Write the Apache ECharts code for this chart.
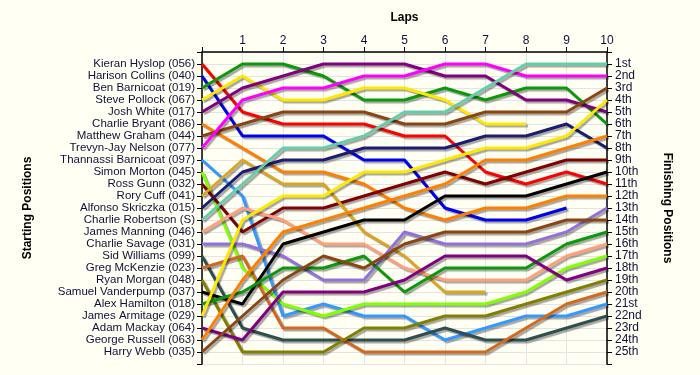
<!DOCTYPE html>
<html>
<head>
<meta charset="utf-8">
<script src="https://cdn.jsdelivr.net/npm/echarts@6/dist/echarts.min.js"></script>
<style>
html,body{margin:0;padding:0;background:#FFFFF4;}
#chart{width:700px;height:375px;}
</style>
</head>
<body>
<div id="chart"></div>
<script>
const laps = [0,1,2,3,4,5,6,7,8,9,10];
const startNames = [
  'Kieran Hyslop (056)','Harison Collins (040)','Ben Barnicoat (019)','Steve Pollock (067)',
  'Josh White (017)','Charlie Bryant (086)','Matthew Graham (044)','Trevyn-Jay Nelson (077)',
  'Thannassi Barnicoat (097)','Simon Morton (045)','Ross Gunn (032)','Rory Cuff (041)',
  'Alfonso Skriczka (015)','Charlie Robertson (S)','James Manning (046)','Charlie Savage (031)',
  'Sid Williams (099)','Greg McKenzie (023)','Ryan Morgan (048)','Samuel Vanderpump (037)',
  'Alex Hamilton (018)','James Armitage (029)','Adam Mackay (064)','George Russell (063)','Harry Webb (035)'
];
const finishLabels = ['1st','2nd','3rd','4th','5th','6th','7th','8th','9th','10th','11th','12th','13th',
  '14th','15th','16th','17th','18th','19th','20th','21st','22nd','23rd','24th','25th'];
const lineColors = ['#FF0000','#0000EE','#0A990A','#FFE800','#800080','#FF8000','#8B4513','#FF00FF',
  '#3399FF','#80FF00','#800000','#DAA520','#1C1C70','#66CDAA','#FFA07A','#9370DB',
  '#2F4F4F','#D2691E','#808000','#000000','#0A990A','#FFE800','#800080','#FF8000','#8B4513'];

// position per lap (lap 0 = start); shorter arrays = retired
const hyslop     = [1,5,6,6,6,7,7,10,11,10,11];
const collins    = [2,7,7,7,9,9,13,14,14,13];
const bBarnicoat = [3,1,1,2,4,4,3,4,3,3,6];
const pollock    = [4,2,4,4,3,3,4,6,6];
const white      = [5,3,2,1,1,1,2,2,4,4,5];
const bryant     = [6,8,10,10,11,13,14,13,13,12,12];
const graham     = [7,6,5,5,5,6,6,5,5,5,3];
const nelson     = [8,4,3,3,2,2,1,1,2,2,2];
const tBarnicoat = [9,12,22,21,22,22,24,23,22,22,21];
const morton     = [10,18,21,22,21,21,21,21,20,18,17];
const gunn       = [11,15,13,13,12,11,10,11,10,9,9];
const cuff       = [12,9,11,11,15,17,20,20];
const skriczka   = [13,10,9,9,8,8,8,7,7,6,8];
const robertson  = [14,11,8,8,7,5,5,3,1,1,1];
const manning    = [15,13,14,16,16,18,19,19,19,17,16];
const savage     = [16,16,17,19,19,15,16,16,16,15,13];
const williams   = [17,23,24,24,24,24,23,24,24,23,22];
const mckenzie   = [18,17,23,23,25,25,25,25,23,21,20];
const morgan     = [19,25,25,25,23,23,22,22,21,20,19];
const vanderpump = [20,21,16,15,14,14,12,12,12,11,10];
const hamilton   = [21,20,18,18,17,20,18,18,18,16,15];
const armitage   = [22,14,12,12,10,10,9,8,8,7,4];
const mackay     = [23,24,20,20,20,19,17,17,17,19,18];
const russell    = [24,19,15,14,13,12,11,9,9,8,7];
const webb       = [25,22,19,17,18,16,15,15,15,14,14];

const driverPositions = [hyslop,collins,bBarnicoat,pollock,white,bryant,graham,nelson,tBarnicoat,
  morton,gunn,cuff,skriczka,robertson,manning,savage,williams,mckenzie,morgan,vanderpump,
  hamilton,armitage,mackay,russell,webb];

const FONT = 'Liberation Sans, Arial, sans-serif';
const series = driverPositions.map((arr, i) => ({
  type: 'line',
  name: startNames[i],
  data: arr.map((p, k) => [laps[k], p]),
  symbol: 'none',
  silent: true,
  animation: false,
  lineStyle: {
    color: lineColors[i], width: 3,
    shadowColor: 'rgba(0,0,0,0.35)', shadowOffsetX: 2, shadowOffsetY: 2, shadowBlur: 1
  },
  z: 2 + i
}));

const chart = echarts.init(document.getElementById('chart'), null, {renderer: 'canvas'});
chart.setOption({
  backgroundColor: '#FFFFF4',
  animation: false,
  grid: {left: 202, right: 93, top: 52, bottom: 11, containLabel: false},
  xAxis: {
    type: 'value', position: 'top', min: 0, max: 10, interval: 1,
    name: 'Laps', nameLocation: 'middle', nameGap: 28,
    nameTextStyle: {fontFamily: FONT, fontSize: 12, fontWeight: 'bold', color: '#000'},
    axisLine: {show: true, lineStyle: {color: '#000', width: 1.5}},
    axisTick: {show: true, length: 5, lineStyle: {color: '#000'}},
    axisLabel: {fontFamily: FONT, fontSize: 12, color: '#10103a', margin: 5,
      formatter: v => (v === 0 ? '' : String(v))},
    splitLine: {show: true, lineStyle: {color: '#E4E4E4', width: 1}}
  },
  yAxis: [
    {
      type: 'value', inverse: true, min: 0, max: 26, interval: 1, position: 'left',
      name: 'Starting Positions', nameLocation: 'middle', nameGap: 168, nameRotate: 90,
      nameTextStyle: {fontFamily: FONT, fontSize: 12, fontWeight: 'bold', color: '#000'},
      axisLine: {show: true, lineStyle: {color: '#000', width: 1.5}},
      axisTick: {show: true, length: 5, lineStyle: {color: '#000'}},
      axisLabel: {fontFamily: FONT, fontSize: 11.5, color: '#10103a', margin: 7,
        formatter: v => (v >= 1 && v <= 25 ? startNames[v - 1] : '')},
      splitLine: {show: true, lineStyle: {color: '#E4E4E4', width: 1}}
    },
    {
      type: 'value', inverse: true, min: 0, max: 26, interval: 1, position: 'right',
      name: 'Finishing Positions', nameLocation: 'middle', nameGap: 54, nameRotate: -90,
      nameTextStyle: {fontFamily: FONT, fontSize: 12, fontWeight: 'bold', color: '#000'},
      axisLine: {show: true, lineStyle: {color: '#000', width: 1.5}},
      axisTick: {show: true, length: 5, lineStyle: {color: '#000'}},
      axisLabel: {fontFamily: FONT, fontSize: 12, color: '#10103a', margin: 8,
        formatter: v => (v >= 1 && v <= 25 ? finishLabels[v - 1] : '')},
      splitLine: {show: false}
    }
  ],
  series: series
});
</script>
</body>
</html>
